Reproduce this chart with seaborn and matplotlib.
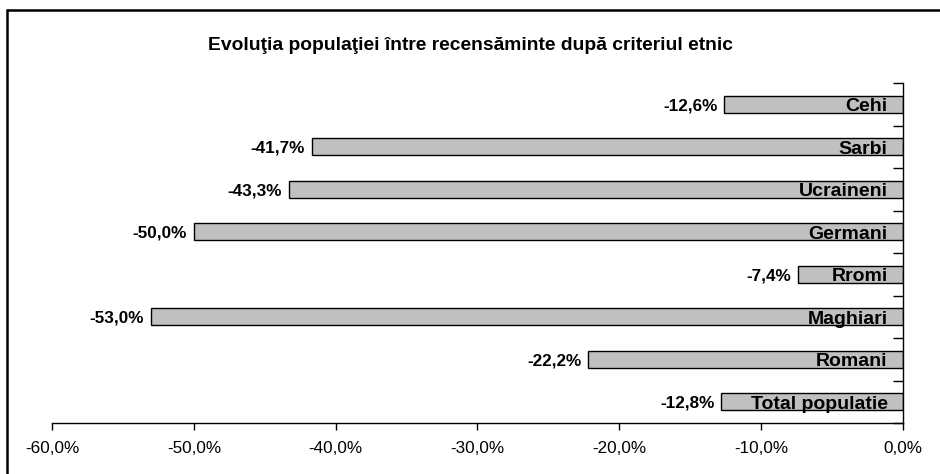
import numpy as np
import pandas as pd
import matplotlib
matplotlib.use("Agg")
import matplotlib.pyplot as plt
from matplotlib.lines import Line2D
from matplotlib.ticker import FuncFormatter
import seaborn as sns

categories = ["Cehi", "Sarbi", "Ucraineni", "Germani", "Rromi",
              "Maghiari", "Romani", "Total populatie"]
changes = [-12.6, -41.7, -43.3, -50.0, -7.4, -53.0, -22.2, -12.8]
x_ticks = [-60, -50, -40, -30, -20, -10, 0]
title = "Evoluţia populaţiei între recensăminte după criteriul etnic"

sns.set_theme(style="white")
plt.rcParams["font.family"] = ["Liberation Sans", "DejaVu Sans"]

df = pd.DataFrame({"categorie": categories, "variatie": changes})

fig = plt.figure(figsize=(9.4, 4.74), dpi=100)
ax = fig.add_axes([52 / 940, 51 / 474, 851 / 940, 340 / 474])

sns.barplot(data=df, x="variatie", y="categorie", orient="h", ax=ax,
            color="#c0c0c0", saturation=1, width=0.4,
            edgecolor="black", linewidth=1)

ax.set_xlim(-60, 0)
ax.set_ylim(7.5, -0.5)
ax.set_xlabel("")
ax.set_ylabel("")

# x axis: percentage ticks with decimal comma
ax.set_xticks(x_ticks)
ax.xaxis.set_major_formatter(FuncFormatter(lambda v, p: f"{v:.1f}%".replace(".", ",")))
ax.tick_params(axis="x", direction="out", length=5, width=1, color="black",
               labelsize=12.3, labelcolor="black", pad=8, bottom=True)

# y axis sits at 0 on the right, ticks between categories
ax.yaxis.set_ticks_position("right")
ax.set_yticks(np.arange(-0.5, len(categories), 1))
ax.set_yticklabels([])
ax.tick_params(axis="y", direction="in", length=7, width=1, color="black",
               right=True, left=False)

for side in ["left", "top"]:
    ax.spines[side].set_visible(False)
for side in ["right", "bottom"]:
    ax.spines[side].set_visible(True)
    ax.spines[side].set_color("black")
    ax.spines[side].set_linewidth(1)

# labels: value to the left of each bar, name inside near zero
for i, (name, val) in enumerate(zip(categories, changes)):
    ax.annotate(f"{val:.1f}%".replace(".", ","), xy=(val, i), xytext=(-5, -4.4),
                textcoords="offset points", ha="right", va="baseline",
                fontsize=12.3, fontweight="bold", color="black")
    ax.annotate(name, xy=(0, i), xytext=(-11, -5.1), textcoords="offset points",
                ha="right", va="baseline", fontsize=14, fontweight="bold",
                color="black")

fig.text(470 / 940, 1 - 45 / 474, title, ha="center", va="center",
         fontsize=13.9, fontweight="bold", color="black")

# chart area frame (top and left edges)
fig.add_artist(Line2D([7 / 940, 1.0], [1 - 10 / 474, 1 - 10 / 474],
                      transform=fig.transFigure, color="black", linewidth=1.8))
fig.add_artist(Line2D([7 / 940, 7 / 940], [0.0, 1 - 10 / 474],
                      transform=fig.transFigure, color="black", linewidth=1.8))

fig.savefig("out.png", dpi=100)
